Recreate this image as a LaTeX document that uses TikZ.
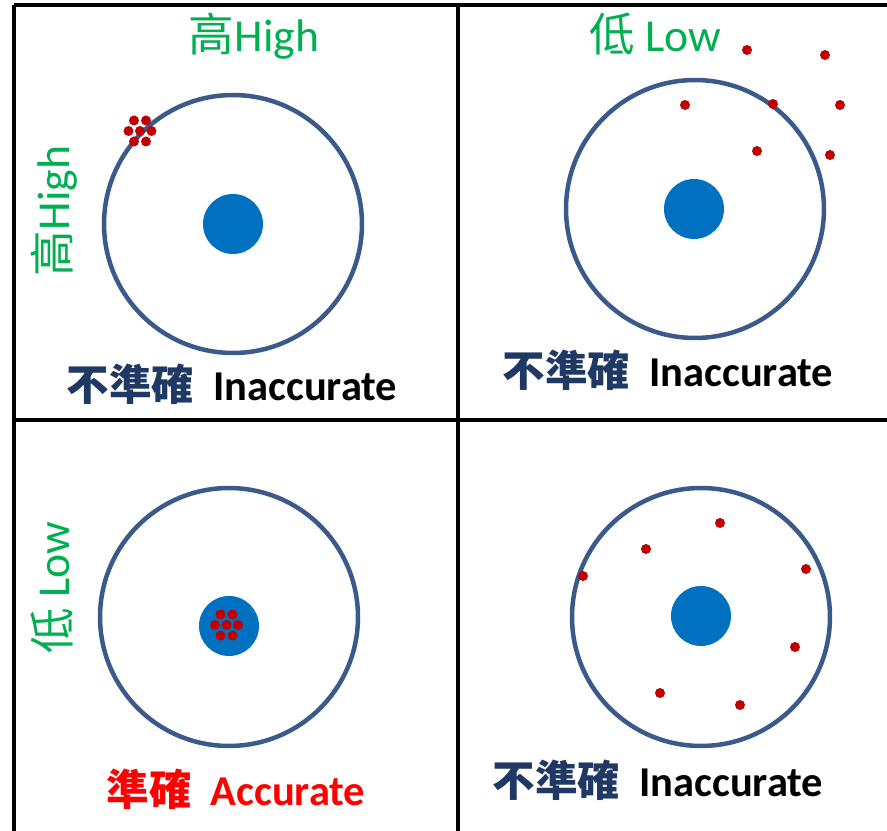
\documentclass[tikz,border=0pt]{standalone}
\usepackage{fontspec}
\setmainfont{Carlito}
\newfontfamily\cjk{Noto Sans CJK TC}
\usepackage{tikz}
\usetikzlibrary{positioning}
\definecolor{ringblue}{RGB}{59,90,140}
\definecolor{diskblue}{RGB}{0,112,192}
\definecolor{dotred}{RGB}{192,0,0}
\definecolor{headgreen}{RGB}{0,176,80}
\definecolor{navytext}{RGB}{31,56,100}

\begin{document}
\begin{tikzpicture}[x=0.02cm,y=-0.02cm,
  ring/.style={circle,draw=ringblue,line width=0.09cm,minimum size=5.16cm,inner sep=0pt},
  bull/.style={circle,fill=diskblue,minimum size=1.2cm,inner sep=0pt},
  shot/.style={circle,fill=dotred,minimum size=0.2cm,inner sep=0pt},
  head/.style={text=headgreen,font=\fontsize{26}{30}\selectfont,anchor=base},
  verdict/.style={font=\fontsize{24.2}{29}\selectfont\bfseries,anchor=base},
  gridline/.style={line width=0.065cm}]
\useasboundingbox (0,0) rectangle (887,831);
% grid lines
\draw[gridline] (14,5) -- (887,5);
\draw[gridline] (14,420) -- (887,420);
\draw[gridline] (14,5) -- (14,831);
\draw[gridline] (458,5) -- (458,831);
% targets
\node[ring] (ringTL) at (233,224) {};
\node[bull] (bullTL) at (233,224) {};
\node[ring] (ringTR) at (695,209) {};
\node[bull] (bullTR) at (694,209) {};
\node[ring] (ringBL) at (229,617) {};
\node[bull] (bullBL) at (229,626) {};
\node[ring] (ringBR) at (701,617) {};
\node[bull] (bullBR) at (701,616) {};
% shots: tight clusters
\foreach \dx/\dy [count=\k] in {-6/-10.5,6/-10.5,-11.5/0,0/0,11.5/0,-6/10.5,6/10.5} {
    \node[shot] (shotTL\k) at ({140+\dx},{131+\dy}) {};
    \node[shot] (shotBL\k) at ({226.5+\dx},{625+\dy}) {};
}
% shots: scattered
\foreach \x/\y [count=\k] in {747/50,825/55,685/105,773/104,840/105,757/151,830/155} {
    \node[shot] (shotTR\k) at (\x,\y) {};
}
\foreach \x/\y [count=\k] in {720/523,646/549,583/576,806/569,795/647,660/693,740/705} {
    \node[shot] (shotBR\k) at (\x,\y) {};
}
% headings
\node[head] (topHigh) at (254,52) {{\cjk 高}High};
\node[head] (topLow) at (655,52) {{\cjk 低} Low};
\node[head,rotate=90] (sideHigh) at (70,211) {{\cjk 高}High};
\node[head,rotate=90] (sideLow) at (70,588) {{\cjk 低} Low};
% verdicts
\node[verdict] (verdictTL) at (232,401) {{\cjk\color{navytext}不準確}\hspace{0.45em}Inaccurate};
\node[verdict] (verdictTR) at (668,387) {{\cjk\color{navytext}不準確}\hspace{0.45em}Inaccurate};
\node[verdict,text=red] (verdictBL) at (236,806) {{\cjk 準確}\hspace{0.45em}Accurate};
\node[verdict] (verdictBR) at (658,796) {{\cjk\color{navytext}不準確}\hspace{0.45em}Inaccurate};
\end{tikzpicture}
\end{document}
